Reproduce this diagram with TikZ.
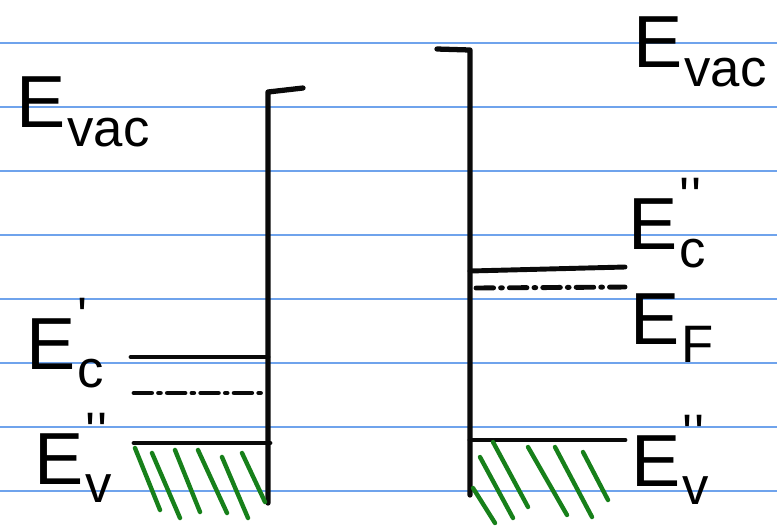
\documentclass[tikz,border=0pt]{standalone}
\usepackage{fontspec}
\setmainfont{Liberation Sans}
\usetikzlibrary{positioning}
\definecolor{ink}{HTML}{0A0A0A}
\definecolor{rule}{HTML}{6FA3EC}
\definecolor{hatch}{HTML}{17801A}
% E with a subscript and raised marks
\newcommand{\elev}[2]{E\hspace{1pt}\rlap{\raisebox{0.47em}{\fontsize{30}{30}\selectfont #2}}\raisebox{-0.25em}{\fontsize{30}{30}\selectfont #1}}
\newcommand{\onemark}{\textquotesingle}
\newcommand{\twomark}{\textquotesingle\kern1pt\textquotesingle}

\begin{document}
\begin{tikzpicture}[
  x=0.02cm, y=-0.02cm,
  paperline/.style={draw=rule, line width=0.8pt},
  wall/.style={draw=ink, line width=3pt, line cap=round, line join=round},
  level/.style={draw=ink, line width=2.8pt, line cap=round},
  fermi/.style={level, dash pattern=on 10pt off 4pt on 1pt off 4pt},
  hatchline/.style={draw=hatch, line width=2.5pt, line cap=round},
  lab/.style={inner sep=0pt, font=\fontsize{42}{42}\selectfont}
]
\useasboundingbox (0,0) rectangle (777,529);

% ruled paper
\foreach \y in {43,107,...,491}
  \draw[paperline] (0,\y) -- (777,\y);

% left side
\coordinate (ltop) at (268,92);
\coordinate (lbot) at (268,503);
\draw[wall] (303,88) -- (ltop) -- (lbot);
\draw[level] (131,357) -- (268,357);
\draw[fermi] (134,393) -- (262,393);
\draw[level] (134,443) -- (270,443);
\foreach \a/\b/\c/\d in {135/448/160/510, 152/453/180/518, 175/450/200/512,
                         198/450/227/513, 222/457/248/518, 242/453/265/502}
  \draw[hatchline] (\a,\b) -- (\c,\d);

\node[lab] (evacl) at (83,112) {\elev{vac}{}};
\node[lab] (ecl) at (65,343) {\elev{c}{\onemark}};
\node[lab] (evl) at (73,458) {\elev{v}{\twomark}};

% right side
\coordinate (rtop) at (470,50);
\coordinate (rbot) at (470,495);
\draw[wall] (437,49) -- (rtop) -- (rbot);
\draw[level] (470,271) -- (625,267);
\draw[fermi] (476,288) -- (625,287);
\draw[level] (470,440) -- (625,440);
\foreach \a/\b/\c/\d in {473/488/495/523, 480/457/513/518, 493/442/528/507,
                         528/447/567/515, 555/447/592/517, 583/452/608/500}
  \draw[hatchline] (\a,\b) -- (\c,\d);

\node[lab] (evacr) at (700,52) {\elev{vac}{}};
\node[lab] (ecr) at (667,223) {\elev{c}{\twomark}};
\node[lab] (efr) at (672,328) {\elev{F}{}};
\node[lab] (evr) at (670,460) {\elev{v}{\twomark}};

\end{tikzpicture}
\end{document}
